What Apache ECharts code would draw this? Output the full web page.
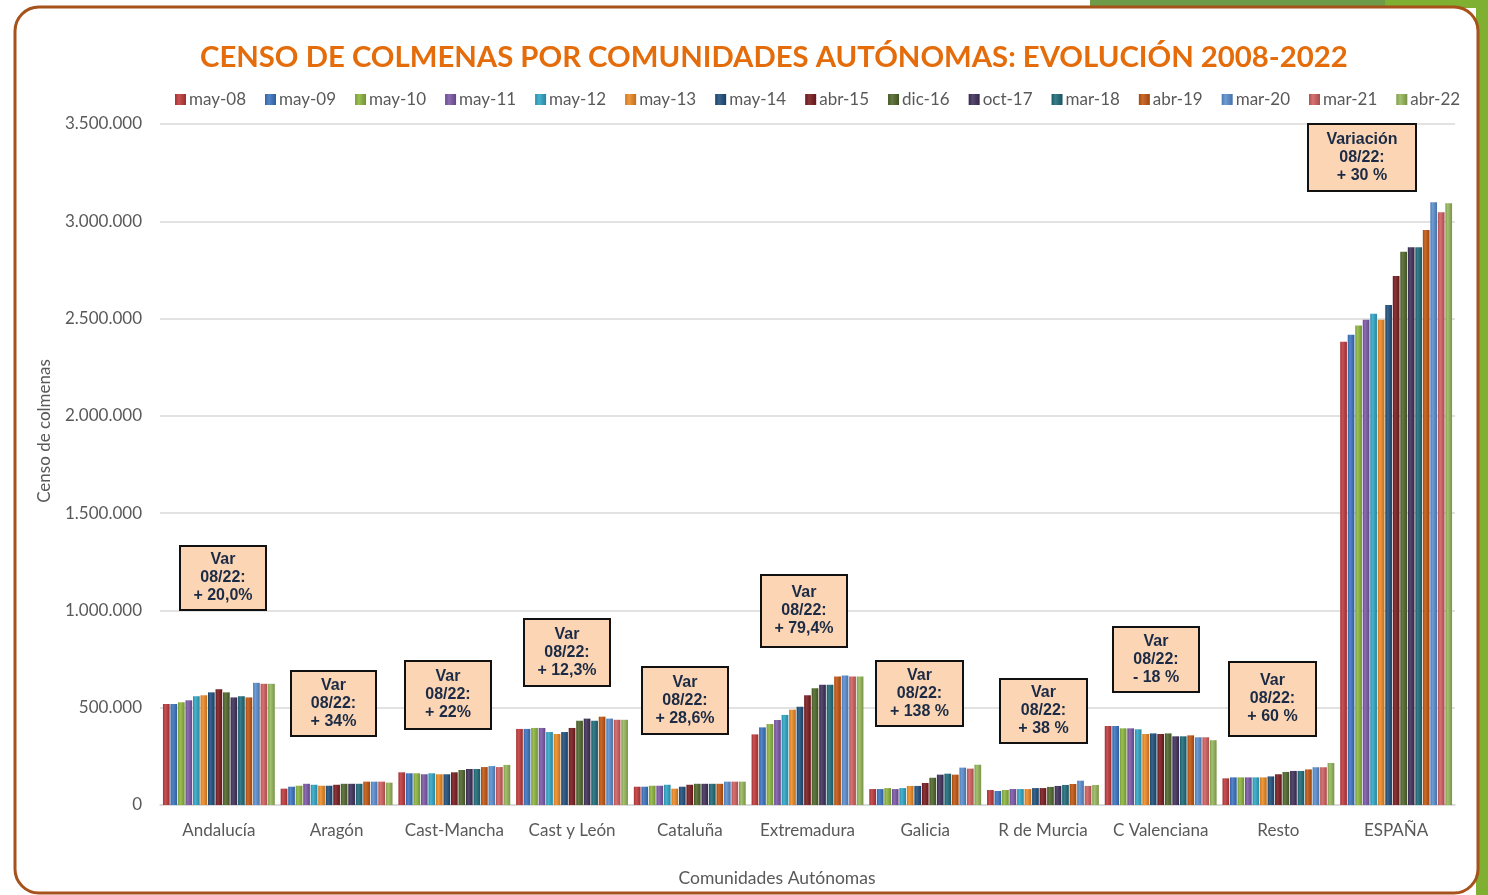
<!DOCTYPE html>
<html><head><meta charset="utf-8">
<script src="https://cdn.jsdelivr.net/npm/echarts@6/dist/echarts.min.js"></script>
<style>html,body{margin:0;padding:0;background:#fff;}#c{width:1488px;height:895px;}</style>
</head><body><div id="c"></div>
<script>
const categories = ['Andalucía','Aragón','Cast-Mancha','Cast y León','Cataluña','Extremadura','Galicia','R de Murcia','C Valenciana','Resto','ESPAÑA'];
const periods = ['may-08','may-09','may-10','may-11','may-12','may-13','may-14','abr-15','dic-16','oct-17','mar-18','abr-19','mar-20','mar-21','abr-22'];
const colors = ['#c0393b','#3b74c2','#8db63e','#7c58a8','#2fa7c7','#ef8b24','#1f4f7d','#7a1b1e','#50672a','#40305a','#1e6b7a','#c4560f','#5a8fd0','#d25f5f','#97b85a'];
// values per region, one entry per period (may-08 ... abr-22)
const andalucia   = [519000,519000,528000,538000,559000,564000,579000,595000,579000,553000,559000,553000,628000,623000,623000];
const aragon      = [84000,94000,99000,109000,104000,99000,99000,104000,109000,109000,109000,120000,120000,120000,115000];
const castMancha  = [168000,163000,163000,158000,163000,158000,158000,168000,180000,185000,185000,195000,200000,195000,206000];
const castLeon    = [391000,391000,396000,396000,375000,365000,375000,396000,433000,444000,433000,454000,444000,438000,438000];
const cataluna    = [94000,94000,99000,99000,104000,84000,94000,104000,109000,109000,109000,109000,120000,120000,120000];
const extremadura = [363000,399000,416000,437000,463000,490000,505000,564000,600000,618000,618000,660000,665000,660000,660000];
const galicia     = [82000,82000,87000,82000,87000,98000,98000,113000,140000,156000,161000,156000,192000,187000,207000];
const murcia      = [77000,72000,77000,82000,82000,82000,87000,87000,93000,98000,103000,108000,125000,98000,103000];
const valenciana  = [406000,406000,394000,394000,389000,365000,368000,365000,368000,353000,353000,358000,348000,348000,333000];
const resto       = [137000,142000,142000,142000,142000,142000,147000,158000,170000,175000,175000,183000,194000,194000,216000];
const espana      = [2381000,2417000,2464000,2494000,2525000,2494000,2570000,2719000,2844000,2866000,2866000,2955000,3098000,3046000,3093000];
const regions = [andalucia,aragon,castMancha,castLeon,cataluna,extremadura,galicia,murcia,valenciana,resto,espana];
const yTicks = [0,500000,1000000,1500000,2000000,2500000,3000000,3500000];
const notes = [
  ['Var','08/22:','+ 20,0%'],['Var','08/22:','+ 34%'],['Var','08/22:','+ 22%'],['Var','08/22:','+ 12,3%'],
  ['Var','08/22:','+ 28,6%'],['Var','08/22:','+ 79,4%'],['Var','08/22:','+ 138 %'],['Var','08/22:','+ 38 %'],
  ['Var','08/22:','- 18 %'],['Var','08/22:','+ 60 %'],['Variación','08/22:','+ 30 %']
];
// annotation box layout (pixels)
const noteBoxes = [
  [180,546,86,64],[291,671,85,65],[405,661,86,68],[524,619,86,67],[642,667,86,67],[761,575,86,72],
  [876,661,87,65],[1000,679,87,64],[1113,627,86,65],[1229,662,87,74],[1308,124,108,67]
];

function shade(hex, f){
  const n = parseInt(hex.slice(1),16);
  let r=(n>>16)&255,g=(n>>8)&255,b=n&255;
  if(f>0){r=r+(255-r)*f;g=g+(255-g)*f;b=b+(255-b)*f;}else{r=r*(1+f);g=g*(1+f);b=b*(1+f);}
  return 'rgb('+Math.round(r)+','+Math.round(g)+','+Math.round(b)+')';
}
function fmt(v){return v.toString().replace(/\B(?=(\d{3})+(?!\d))/g,'.');}

const series = periods.map((p,i)=>({
  name:p, type:'bar',
  data: regions.map(r=>r[i]),
  barCategoryGap:'5%', barGap:'12%',
  itemStyle:{color:{type:'linear',x:0,y:0,x2:1,y2:0,colorStops:[
    {offset:0,color:shade(colors[i],-0.15)},{offset:0.35,color:shade(colors[i],0.12)},{offset:1,color:shade(colors[i],-0.2)}]}},
  emphasis:{disabled:true}
}));

const graphics = [
  {type:'rect',z:-10,shape:{x:1090,y:0,width:398,height:8},style:{fill:'#6d9b48'}},
  {type:'rect',z:-10,shape:{x:1385,y:0,width:103,height:8},style:{fill:'#7fb031'}},
  {type:'rect',z:-10,shape:{x:1476,y:0,width:12,height:895},style:{fill:'#7fb031'}},
  {type:'rect',z:-5,shape:{x:15,y:7,width:1463,height:886,r:24},style:{fill:'#fff',stroke:'#a5521b',lineWidth:3}},
  {type:'text',z:10,x:45,y:431,rotation:Math.PI/2,style:{text:'Censo de colmenas',fill:'#595959',font:'17px Lato',align:'center',verticalAlign:'middle'}},
  {type:'text',z:10,x:777,y:878,style:{text:'Comunidades Autónomas',fill:'#595959',font:'17.5px Lato',align:'center',verticalAlign:'middle'}}
];
notes.forEach((t,i)=>{
  const b = noteBoxes[i];
  graphics.push({type:'rect',z:50,shape:{x:b[0],y:b[1],width:b[2],height:b[3]},style:{fill:'#fcd5b4',stroke:'#111',lineWidth:2}});
  graphics.push({type:'text',z:51,x:b[0]+b[2]/2,y:b[1]+b[3]/2,style:{text:t.join('\n'),fill:'#1b2b45',font:'bold 16px "Liberation Sans", Arial',align:'center',verticalAlign:'middle',lineHeight:18}});
});

const chart = echarts.init(document.getElementById('c'));
chart.setOption({
  animation:false,
  color:colors,
  title:{text:'CENSO DE COLMENAS POR COMUNIDADES AUTÓNOMAS: EVOLUCIÓN 2008-2022',left:195,top:38,
    textStyle:{color:'#e46c0a',fontFamily:'Lato',fontWeight:'bold',fontSize:29.3}},
  legend:{top:86,left:170,itemWidth:11,itemHeight:11,itemGap:19,icon:'rect',
    textStyle:{color:'#595959',fontFamily:'Lato',fontSize:17,padding:[0,0,0,-2]}},
  grid:{left:160,right:33,top:124,bottom:90,containLabel:false},
  xAxis:{type:'category',data:categories,
    axisLine:{lineStyle:{color:'#d9d9d9',width:1.5}},axisTick:{show:false},
    axisLabel:{color:'#595959',fontFamily:'Lato',fontSize:17,margin:17,interval:0}},
  yAxis:{type:'value',min:yTicks[0],max:yTicks[yTicks.length-1],interval:yTicks[1]-yTicks[0],
    axisLine:{show:false},axisTick:{show:false},
    axisLabel:{color:'#595959',fontFamily:'Lato',fontSize:17,margin:18,formatter:v=>fmt(v)},
    splitLine:{lineStyle:{color:'#d9d9d9',width:1.5}}},
  series:series,
  graphic:graphics
});
</script></body></html>
